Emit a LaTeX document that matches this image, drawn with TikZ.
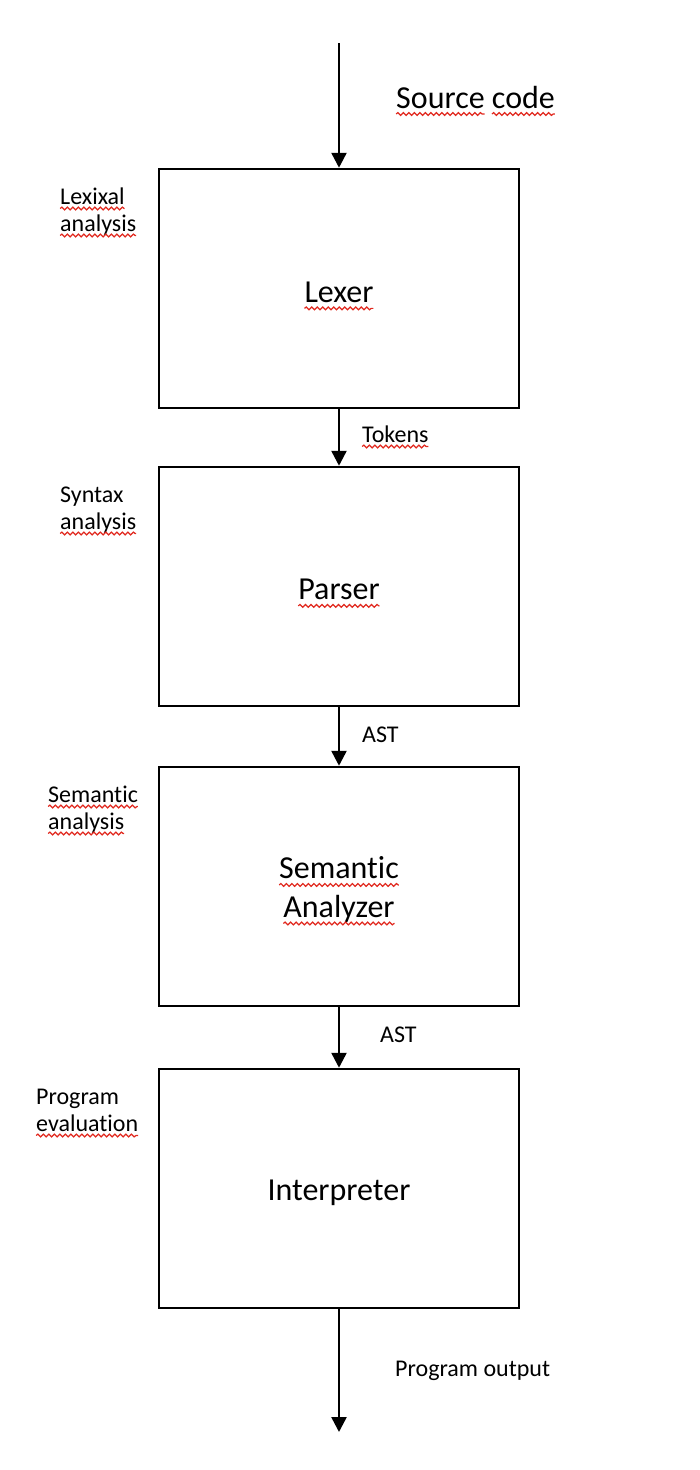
\documentclass[tikz,border=0pt]{standalone}
\usepackage{fontspec}
\setmainfont{Carlito}[Ligatures=NoCommon]
\usetikzlibrary{arrows.meta,decorations.pathmorphing}
\definecolor{sq}{RGB}{225,40,30}
\newcommand\wv[2][4.5]{\tikz[baseline=(w.base)]{\node[draw=none,inner sep=0pt,outer sep=0pt,minimum width=0pt,minimum height=0pt,text height=,text depth=,anchor=center](w){#2};\draw[overlay,sq,line width=1.2pt,decorate,decoration={snake,amplitude=1.4pt,segment length=5.5pt}]([yshift=-#1pt]w.base west)--([yshift=-#1pt]w.base east);}}
\begin{document}
\begin{tikzpicture}[x=1pt,y=-1pt,
  box/.style={draw, line width=2.5pt, minimum width=360pt, minimum height=239pt, inner sep=0pt, font=\fontsize{32}{38.5}\selectfont, align=center},
  lab/.style={inner sep=0pt, font=\fontsize{24}{27}\selectfont, align=left, anchor=base west},
  biglab/.style={inner sep=0pt, font=\fontsize{32}{38}\selectfont, anchor=base west},
  arr/.style={line width=2.5pt, -{Triangle[width=15pt,length=15pt]}}]
\fill[white] (0,0) rectangle (700,1470);
\useasboundingbox (0,0) rectangle (700,1470);
\coordinate (top) at (339,43);
\node[box,text height=28pt] (lexer) at (339,288.5) {\wv[6]{Lexer}};
\node[box,text height=27pt] (parser) at (339,586.5) {\wv[6]{Parser}};
\node[box,text height=67pt] (sem) at (339,886.5) {\wv[6]{Semantic}\\\wv[6]{Analyzer}};
\node[box,text height=29pt] (interp) at (339,1188.5) {Interpreter};
\coordinate (bottom) at (339,1432);
\draw[arr] (top) -- (lexer.north);
\draw[arr] (lexer.south) -- (parser.north);
\draw[arr] (parser.south) -- (sem.north);
\draw[arr] (sem.south) -- (interp.north);
\draw[arr] (interp.south) -- (bottom);
\node[biglab] (src) at (396,108) {\wv[6]{Source} \wv[6]{code}};
\node[lab] (tok) at (362,442) {\wv{Tokens}};
\node[lab] (ast1) at (362,742) {AST};
\node[lab] (ast2) at (380,1042) {AST};
\node[lab] (out) at (395,1376) {Program output};
\node[lab] (lexlab) at (60,231) {\wv{Lexixal}\\\wv{analysis}};
\node[lab] (synlab) at (60,529) {Syntax\\\wv{analysis}};
\node[lab] (semlab) at (48,829) {\wv{Semantic}\\\wv{analysis}};
\node[lab] (evallab) at (36,1131) {Program\\\wv{evaluation}};
\end{tikzpicture}
\end{document}
